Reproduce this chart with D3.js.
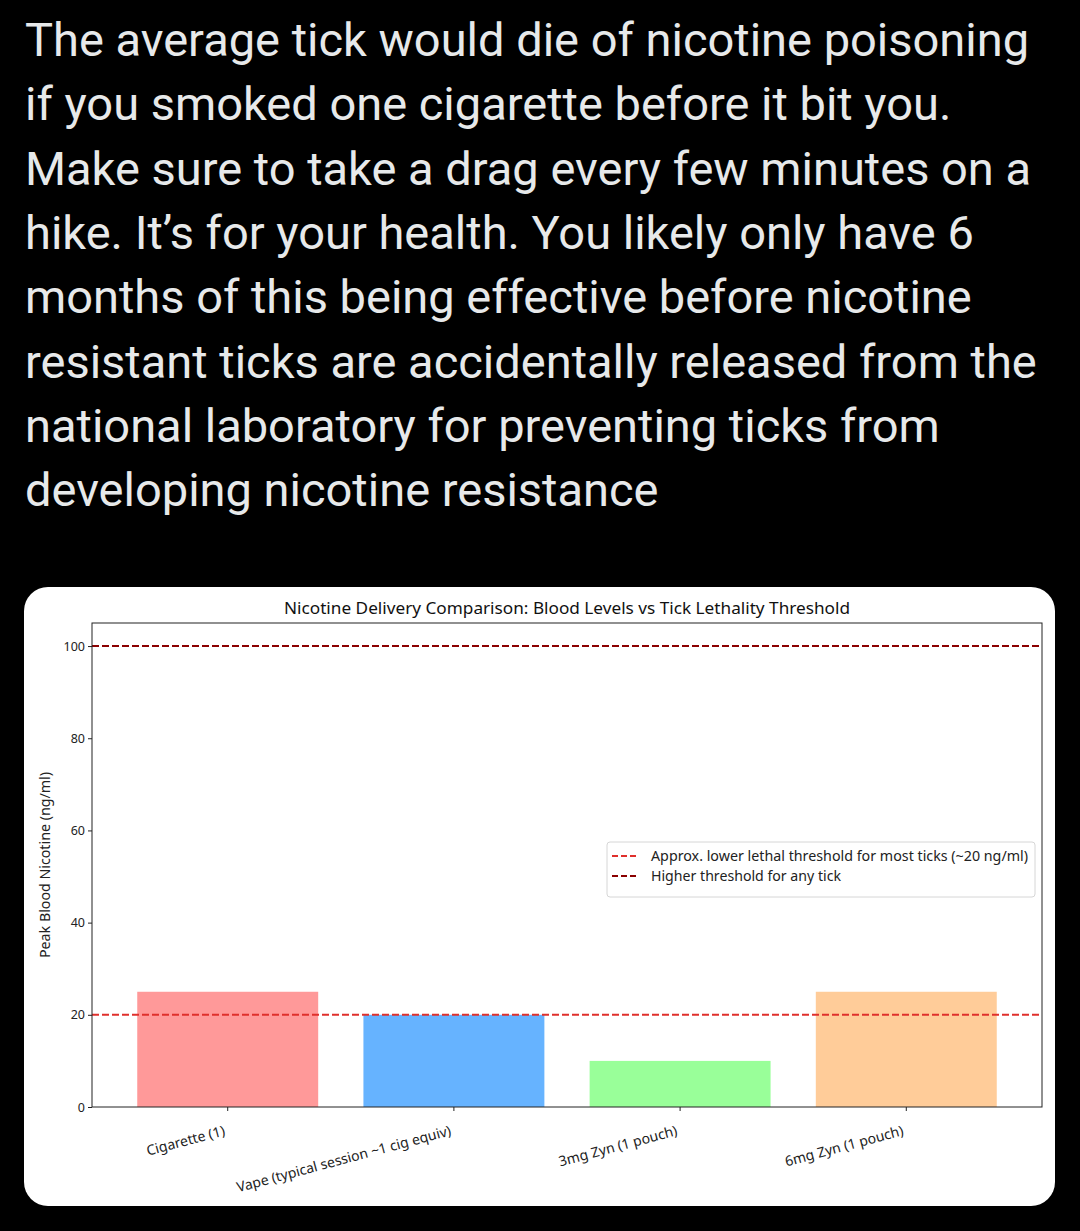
<!DOCTYPE html>
<html>
<head>
<meta charset="utf-8">
<script src="https://cdn.jsdelivr.net/npm/d3@7"></script>
<style>
  html, body { margin: 0; padding: 0; background: #000; }
  svg { display: block; }
</style>
</head>
<body>
<div id="chart"></div>
<script>
// tweet text above the chart
const tweetLines = [
  "The average tick would die of nicotine poisoning",
  "if you smoked one cigarette before it bit you.",
  "Make sure to take a drag every few minutes on a",
  "hike. It\u2019s for your health. You likely only have 6",
  "months of this being effective before nicotine",
  "resistant ticks are accidentally released from the",
  "national laboratory for preventing ticks from",
  "developing nicotine resistance"
];

// chart data
const categories = ["Cigarette (1)", "Vape (typical session ~1 cig equiv)", "3mg Zyn (1 pouch)", "6mg Zyn (1 pouch)"];
const nicotine = [25, 20, 10, 25];
const barColors = ["#ff9999", "#66b3ff", "#99ff99", "#ffcc99"];
const yTicks = [0, 20, 40, 60, 80, 100];
const thresholds = [20, 100];
const thresholdLabels = ["Approx. lower lethal threshold for most ticks (~20 ng/ml)", "Higher threshold for any tick"];
const thresholdColors = ["#e0302c", "#8b0000"];

const W = 1080, H = 1231;

const svg = d3.select("#chart").append("svg")
    .attr("width", W)
    .attr("height", H);

svg.append("rect").attr("width", W).attr("height", H).attr("fill", "#000");

svg.append("g")
    .selectAll("text")
    .data(tweetLines)
    .enter().append("text")
    .attr("x", 25)
    .attr("y", (d, i) => 56 + i * 64.3)
    .attr("fill", "#e7e9ea")
    .style("font-family", "Roboto, 'Liberation Sans', sans-serif")
    .style("font-size", "47px")
    .text(d => d);

// white card
svg.append("rect")
    .attr("x", 24).attr("y", 587)
    .attr("width", 1031).attr("height", 619)
    .attr("rx", 24)
    .attr("fill", "#fff");

const margin = {top: 623, right: 1042, bottom: 1107, left: 92};
const font = "'Noto Sans', 'Open Sans', sans-serif";

const x = d3.scaleBand()
    .domain(categories)
    .range([margin.left, margin.right])
    .paddingInner(0.2)
    .paddingOuter(0.2);

const y = d3.scaleLinear()
    .domain([0, 105])
    .range([margin.bottom, margin.top]);

const g = svg.append("g");

// bars
g.selectAll(".bar")
    .data(categories)
    .enter().append("rect")
    .attr("class", "bar")
    .attr("x", d => x(d))
    .attr("y", (d, i) => y(nicotine[i]))
    .attr("width", x.bandwidth())
    .attr("height", (d, i) => y(0) - y(nicotine[i]))
    .attr("fill", (d, i) => barColors[i]);

// threshold lines
g.selectAll(".thr")
    .data(thresholds)
    .enter().append("line")
    .attr("class", "thr")
    .attr("x1", margin.left)
    .attr("x2", margin.right)
    .attr("y1", d => y(d))
    .attr("y2", d => y(d))
    .attr("stroke", (d, i) => thresholdColors[i])
    .attr("stroke-width", 2)
    .attr("stroke-dasharray", "7,3");

// frame
g.append("rect")
    .attr("x", margin.left).attr("y", margin.top)
    .attr("width", margin.right - margin.left)
    .attr("height", margin.bottom - margin.top)
    .attr("fill", "none")
    .attr("stroke", "#222")
    .attr("stroke-width", 1);

// y axis
const yAxis = g.append("g")
    .attr("transform", "translate(" + margin.left + ",0)")
    .call(d3.axisLeft(y).tickValues(yTicks).tickSize(4).tickPadding(3));
yAxis.select(".domain").remove();
yAxis.selectAll("line").attr("stroke", "#222");
yAxis.selectAll("text")
    .style("font-family", font)
    .style("font-size", "12.5px")
    .attr("fill", "#222");

// x axis
const xAxis = g.append("g")
    .attr("transform", "translate(0," + margin.bottom + ")")
    .call(d3.axisBottom(x).tickSize(4));
xAxis.select(".domain").remove();
xAxis.selectAll("line").attr("stroke", "#222");
xAxis.selectAll("text")
    .style("font-family", font)
    .style("font-size", "14px")
    .attr("fill", "#222")
    .attr("text-anchor", "end")
    .attr("x", -2)
    .attr("y", 28)
    .attr("dy", null)
    .attr("transform", "rotate(-15,-2,28)");

// y label
svg.append("text")
    .attr("transform", "translate(50," + ((margin.top + margin.bottom) / 2) + ") rotate(-90)")
    .attr("text-anchor", "middle")
    .style("font-family", font)
    .style("font-size", "13.5px")
    .attr("fill", "#222")
    .attr("textLength", 186)
    .attr("lengthAdjust", "spacingAndGlyphs")
    .text("Peak Blood Nicotine (ng/ml)");

// title
svg.append("text")
    .attr("x", (margin.left + margin.right) / 2)
    .attr("y", 614)
    .attr("text-anchor", "middle")
    .style("font-family", font)
    .style("font-size", "16.5px")
    .attr("fill", "#111")
    .attr("textLength", 566)
    .attr("lengthAdjust", "spacingAndGlyphs")
    .text("Nicotine Delivery Comparison: Blood Levels vs Tick Lethality Threshold");

// legend
const legend = svg.append("g").attr("transform", "translate(607,842)");
legend.append("rect")
    .attr("width", 428).attr("height", 55)
    .attr("rx", 3)
    .attr("fill", "#fff")
    .attr("stroke", "#d6d6d6");
const item = legend.selectAll(".item")
    .data(thresholdLabels)
    .enter().append("g")
    .attr("class", "item")
    .attr("transform", (d, i) => "translate(0," + (14 + i * 20) + ")");
item.append("line")
    .attr("x1", 5).attr("x2", 29)
    .attr("stroke", (d, i) => thresholdColors[i])
    .attr("stroke-width", 2)
    .attr("stroke-dasharray", "6,3");
item.append("text")
    .attr("x", 44)
    .attr("y", 4.5)
    .style("font-family", font)
    .style("font-size", "13.5px")
    .attr("fill", "#222")
    .attr("textLength", (d, i) => [377, 190][i])
    .attr("lengthAdjust", "spacingAndGlyphs")
    .text(d => d);
</script>
</body>
</html>
